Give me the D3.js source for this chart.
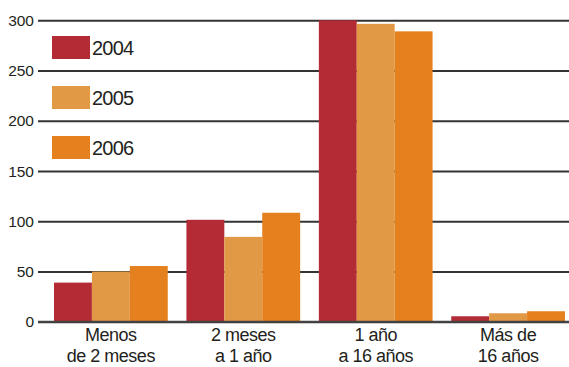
<!DOCTYPE html>
<html>
<head>
<meta charset="utf-8">
<script src="https://cdn.jsdelivr.net/npm/d3@7"></script>
<style>
  html, body { margin: 0; padding: 0; background: #fff; }
  svg { display: block; }
  text { font-family: "Liberation Sans", Arial, sans-serif; fill: #231f20; }
</style>
</head>
<body>
<svg id="chart" width="569" height="367"></svg>
<script>
// Duración, por tramos, en tres años consecutivos
const categories = [["Menos", "de 2 meses"], ["2 meses", "a 1 año"], ["1 año", "a 16 años"], ["Más de", "16 años"]];
const years = ["2004", "2005", "2006"];
const values2004 = [39, 101.5, 300, 5.5];
const values2005 = [50, 84.5, 296.5, 8.5];
const values2006 = [55.5, 108.5, 289, 10.5];
const yTicks = [0, 50, 100, 150, 200, 250, 300];
const colors = ["#b32b35", "#e29946", "#e5801e"];

const series = [values2004, values2005, values2006];

const svg = d3.select("#chart");

const y = d3.scaleLinear().domain([0, 300]).range([321.8, 20.3]);
const x0 = d3.scaleBand().domain(d3.range(categories.length)).range([54, 565]).paddingInner(0.141).paddingOuter(0);
const x1 = d3.scaleBand().domain(d3.range(years.length)).range([0, x0.bandwidth()]).padding(0);

// Horizontal grid lines with tick labels
const yAxis = d3.axisLeft(y).tickValues(yTicks).tickSize(-(569 - 38)).tickPadding(4).tickFormat(d3.format("d"));
const gAxis = svg.append("g").attr("transform", "translate(38,0)").call(yAxis);
gAxis.select(".domain").remove();
gAxis.selectAll(".tick line").attr("stroke", "#333").attr("stroke-width", 2);
gAxis.selectAll(".tick text").attr("font-size", "15.5px").attr("fill", "#231f20")
  .style("font-family", "'Liberation Sans', Arial, sans-serif");

// Grouped bars
const groups = svg.append("g").selectAll("g")
  .data(categories.map((c, i) => i))
  .join("g")
  .attr("transform", i => `translate(${x0(i)},0)`);

groups.selectAll("rect")
  .data(i => series.map((s, k) => ({ k, v: s[i] })))
  .join("rect")
  .attr("x", d => x1(d.k))
  .attr("width", x1.bandwidth())
  .attr("y", d => y(d.v))
  .attr("height", d => y(0) - y(d.v))
  .attr("fill", d => colors[d.k]);

// Baseline drawn on top of the bars
svg.append("line")
  .attr("x1", 38).attr("x2", 569)
  .attr("y1", y(0)).attr("y2", y(0))
  .attr("stroke", "#444").attr("stroke-width", 2);

// Category labels, two lines each
const labelLines = [];
categories.forEach((c, i) => c.forEach((t, l) => labelLines.push({ t, i, l })));
svg.append("g").selectAll("text")
  .data(labelLines)
  .join("text")
  .attr("text-anchor", "middle")
  .attr("font-size", "18px")
  .attr("letter-spacing", "-0.5px")
  .attr("x", d => x0(d.i) + x0.bandwidth() / 2)
  .attr("y", d => 341 + d.l * 20.5)
  .text(d => d.t);

// Legend
const legend = svg.append("g").selectAll("g")
  .data(years.map((yr, k) => ({ yr, k })))
  .join("g")
  .attr("transform", d => `translate(52,${36 + d.k * 50})`);
legend.append("rect").attr("width", 38).attr("height", 23).attr("fill", d => colors[d.k]);
legend.append("text").attr("x", 40).attr("y", 18.5).attr("font-size", "20px")
  .attr("letter-spacing", "-0.8px").text(d => d.yr);
</script>
</body>
</html>
